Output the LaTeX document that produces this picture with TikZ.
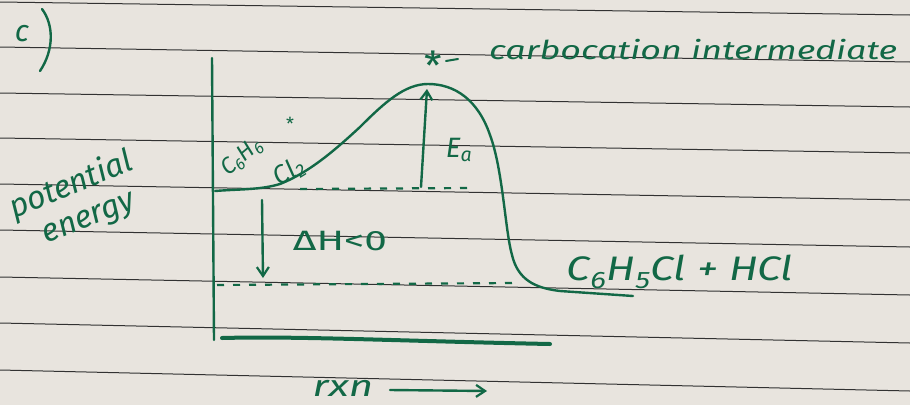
\documentclass[tikz,border=0pt]{standalone}
\usepackage{fontspec}
\setmainfont{Fira Sans}
\usetikzlibrary{arrows.meta}
\definecolor{paper}{RGB}{232,228,222}
\definecolor{rule}{RGB}{50,50,50}
\definecolor{ink}{RGB}{18,104,70}
\tikzset{
  ink/.style={draw=ink, line width=2.4pt, line cap=round, line join=round},
  ruled/.style={draw=rule, line width=1pt},
  hand/.style={text=ink, font=\itshape, inner sep=0pt},
  dashlevel/.style={draw=ink, line width=2.2pt, dash pattern=on 7pt off 9pt},
  tip/.style={-{Straight Barb[length=9pt,width=12pt,line width=2.2pt]}}
}
\newcommand{\fs}[1]{\fontsize{#1}{#1}\selectfont}
\begin{document}
\begin{tikzpicture}[x=1pt,y=-1pt]
\useasboundingbox (0,0) rectangle (910,405);
\fill[paper] (0,0) rectangle (910,405);
% ruled lines
\foreach \l/\r in {2/15,47/62,93/107,138/153,184/200,230/247,277/295,323/343,370/391}
  \draw[ruled] (0,\l) -- (910,\r);
% c)
\node[hand, font=\itshape\fs{30}] (c) at (22,34) {c};
\draw[ink] (42,9) .. controls (54,25) and (54,50) .. (40,71);
% axes
\coordinate (ytop) at (212,58);
\coordinate (ybot) at (214,340);
\coordinate (xl) at (222,338);
\coordinate (xr) at (550,344);
\draw[ink] (ytop) -- (ybot);
\draw[ink, line width=4pt] (xl) .. controls (300,336) and (400,341) .. (xr);
% energy curve
\draw[ink] (215,191) .. controls (240,189) and (260,190) .. (280,184)
  .. controls (310,172) and (335,150) .. (360,127)
  .. controls (385,102) and (405,84) .. (428,84)
  .. controls (455,84) and (478,100) .. (490,135)
  .. controls (503,170) and (505,230) .. (512,255)
  .. controls (518,280) and (535,288) .. (560,291) -- (633,296);
% dotted levels
\coordinate (r1) at (300,189);
\coordinate (r2) at (470,188);
\coordinate (p1) at (217,285);
\coordinate (p2) at (515,283);
\draw[dashlevel] (r1) -- (r2);
\draw[dashlevel] (p1) -- (p2);
% Ea arrow
\coordinate (ea1) at (421,187);
\coordinate (ea2) at (427,89);
\draw[ink, tip] (ea1) -- (ea2);
\node[hand, font=\itshape\fs{28}] (ea) at (459,150) {E\textsubscript{a}};
% dH arrow
\coordinate (dh1) at (262,200);
\coordinate (dh2) at (263,278);
\draw[ink, tip] (dh1) -- (dh2);
\node[hand, font=\fs{28}] (dh) at (340,241) {\scalebox{1.45}[1]{ΔH<0}};
% reactants
\node[hand, rotate=40, font=\itshape\fs{23}] (r6) at (242,157) {C\textsubscript{6}H\textsubscript{6}};
\node[hand, rotate=32, font=\itshape\fs{26}] (rcl) at (289,172) {Cl\textsubscript{2}};
\node[hand, font=\fs{18}] (rst) at (290,124) {*};
% products
\node[hand, font=\itshape\fs{34}] (prod) at (680,272) {\scalebox{1.25}[1]{C\textsubscript{6}H\textsubscript{5}Cl + HCl}};
% axis labels
\node[hand, rotate=22, align=center, font=\itshape\fs{32}] (pe) at (78,202)
  {potential\\[4pt]\hspace*{8pt}energy};
\node[hand, font=\itshape\fs{30}] (rxn) at (343,388) {\scalebox{1.4}[1]{rxn}};
\coordinate (a1) at (390,390);
\coordinate (a2) at (487,391);
\draw[ink, tip] (a1) -- (a2);
% legend
\node[hand, font=\fs{40}] (star) at (433,66) {*};
\coordinate (d1) at (446,61);
\coordinate (d2) at (458,59);
\draw[ink, line width=2pt] (d1) -- (d2);
\node[hand, font=\itshape\fs{26}, anchor=west] (carb) at (489,50) {\scalebox{1.38}[1]{carbocation intermediate}};
\end{tikzpicture}
\end{document}
